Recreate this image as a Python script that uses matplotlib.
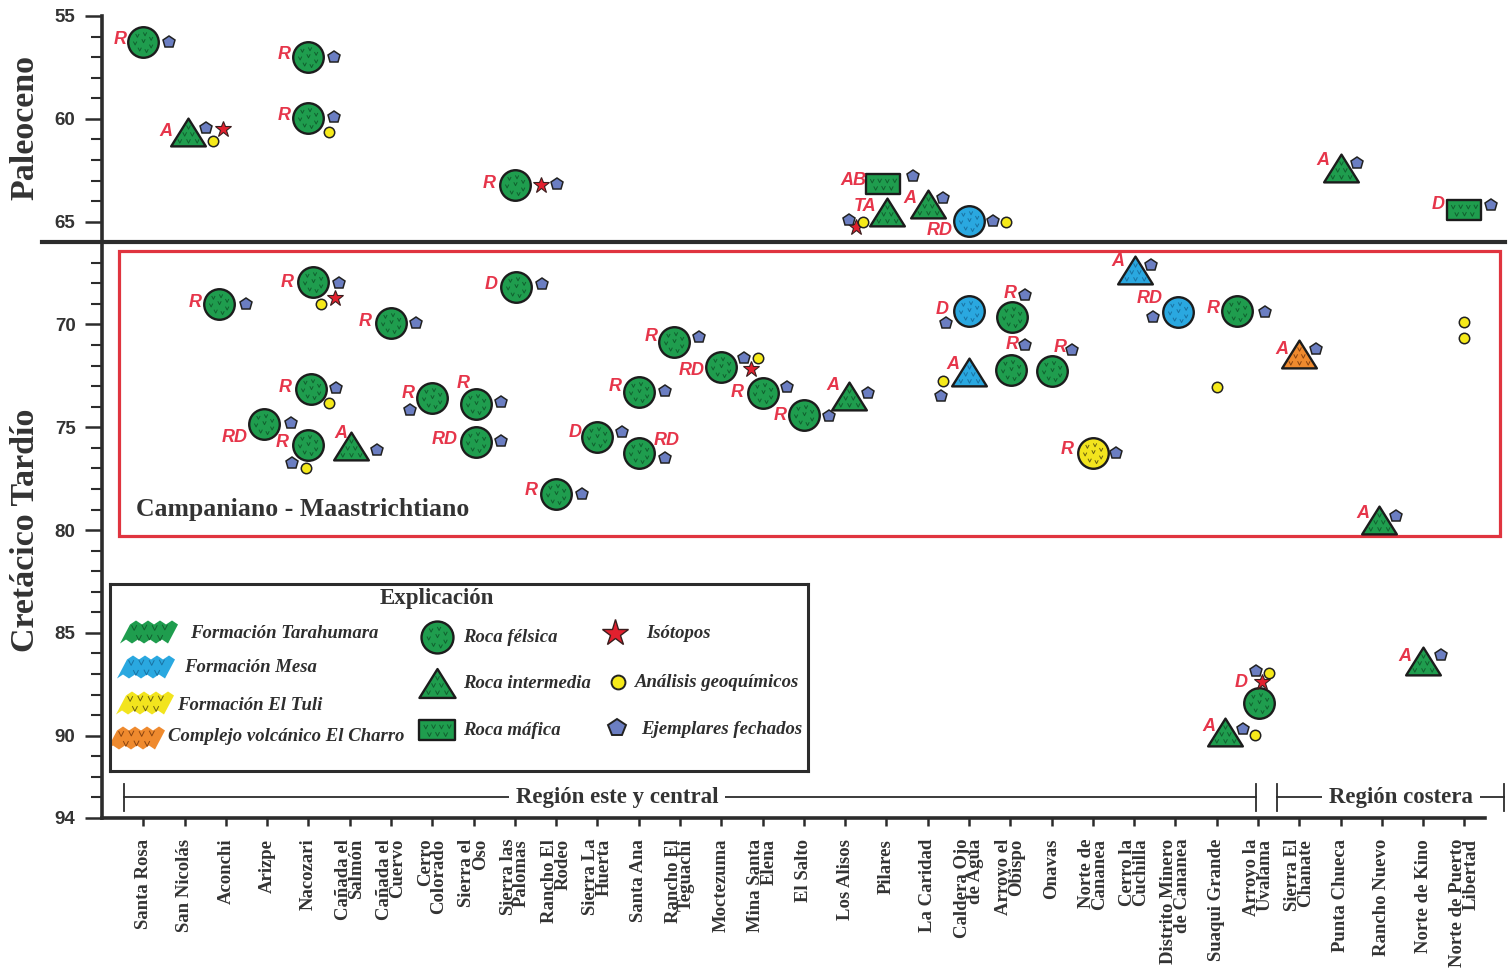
import numpy as np
import matplotlib
matplotlib.use("Agg")
import matplotlib.pyplot as plt
import matplotlib.transforms as mtransforms
from matplotlib.path import Path
from matplotlib.patches import Rectangle, Polygon

# ---------------- data ----------------
sites = [
    "Santa Rosa", "San Nicolás", "Aconchi", "Arizpe", "Nacozari",
    "Cañada el\nSalmón", "Cañada el\nCuervo", "Cerro\nColorado", "Sierra el\nOso",
    "Sierra las\nPalomas", "Rancho El\nRodeo", "Sierra La\nHuerta", "Santa Ana",
    "Rancho El\nTeguachi", "Moctezuma", "Mina Santa\nElena", "El Salto",
    "Los Alisos", "Pilares", "La Caridad", "Caldera Ojo\nde Agua",
    "Arroyo el\nObispo", "Onavas", "Norte de\nCananea", "Cerro la\nCuchilla",
    "Distrito Minero\nde Cananea", "Suaqui Grande", "Arroyo la\nUvalama",
    "Sierra El\nChanate", "Punta Chueca", "Rancho Nuevo", "Norte de Kino",
    "Norte de Puerto\nLibertad",
]

# one entry per dated sample (age in Ma)
sample_site = [0, 1, 4, 4, 9, 18, 18, 17, 19, 20, 29, 32,
               2, 4, 6, 4, 3, 4, 5, 7, 8, 8, 9, 10, 11, 12, 12, 13, 14, 15, 16, 17,
               20, 20, 21, 21, 22, 23, 24, 25, 26, 28, 30, 27, 26, 31]
sample_age = [56.26, 60.64, 56.99, 59.96, 63.22, 63.17, 64.53, 65.02, 64.12, 64.97, 62.39, 64.43,
              69.00, 67.94, 69.93, 73.14, 74.84, 75.86, 75.91, 73.58, 73.87, 75.72, 68.18, 78.24,
              75.47, 73.28, 76.25, 70.85, 72.07, 73.33, 74.40, 73.50,
              69.35, 72.31, 69.64, 72.21, 72.26, 76.25, 67.35, 69.39, 69.35, 71.44, 79.51, 88.41,
              89.82, 86.37]
# F = félsica, I = intermedia, M = máfica, '' = sin muestra de roca
sample_rock = ['F', 'I', 'F', 'F', 'F', 'M', 'I', '', 'I', 'F', 'I', 'M',
               'F', 'F', 'F', 'F', 'F', 'F', 'I', 'F', 'F', 'F', 'F', 'F', 'F', 'F', 'F', 'F',
               'F', 'F', 'F', 'I',
               'F', 'I', 'F', 'F', 'F', 'F', 'I', 'F', 'F', 'I', 'I', 'F', 'I', 'I']
# TAR = Tarahumara, MES = Mesa, TUL = El Tuli, CHA = El Charro
sample_unit = ['TAR', 'TAR', 'TAR', 'TAR', 'TAR', 'TAR', 'TAR', '', 'TAR', 'MES', 'TAR', 'TAR',
               'TAR', 'TAR', 'TAR', 'TAR', 'TAR', 'TAR', 'TAR', 'TAR', 'TAR', 'TAR', 'TAR', 'TAR',
               'TAR', 'TAR', 'TAR', 'TAR', 'TAR', 'TAR', 'TAR', 'TAR',
               'MES', 'MES', 'TAR', 'TAR', 'TAR', 'TUL', 'MES', 'MES', 'TAR', 'CHA', 'TAR', 'TAR',
               'TAR', 'TAR']
sample_method = ['R', 'A', 'R', 'R', 'R', 'AB', 'TA', '', 'A', 'RD', 'A', 'D',
                 'R', 'R', 'R', 'R', 'RD', 'R', 'A', 'R', 'R', 'RD', 'D', 'R', 'D', 'R', 'RD', 'R',
                 'RD', 'R', 'R', 'A',
                 'D', 'A', 'R', 'R', 'R', 'R', 'A', 'RD', 'R', 'A', 'A', 'D', 'A', 'A']
sample_dated = [1, 1, 1, 1, 1, 1, 0, 1, 1, 1, 1, 1,
                1, 1, 1, 1, 1, 1, 1, 1, 1, 1, 1, 1, 1, 1, 1, 1, 1, 1, 1, 1,
                1, 1, 1, 1, 1, 1, 1, 1, 1, 1, 1, 1, 1, 1]
sample_geochem = [0, 1, 0, 1, 0, 0, 0, 1, 0, 1, 0, 0,
                  0, 1, 0, 1, 0, 1, 0, 0, 0, 0, 0, 0, 0, 0, 0, 0, 1, 0, 0, 0,
                  0, 1, 0, 0, 0, 0, 0, 0, 0, 0, 0, 1, 1, 0]
sample_isotope = [0, 1, 0, 0, 1, 0, 0, 1, 0, 0, 0, 0,
                  0, 1, 0, 0, 0, 0, 0, 0, 0, 0, 0, 0, 0, 0, 0, 0, 1, 0, 0, 0,
                  0, 0, 0, 0, 0, 0, 0, 0, 0, 0, 0, 1, 0, 0]

# geochemistry-only points
geo_site = [26, 32, 32]
geo_age = [73.04, 69.88, 70.66]

# ---------------- layout (pixels, y downward) ----------------
sample_nudge = [0, .09, 0, 0, 0, -.07, .02, .27, 0, 0, 0, 0,
                -.16, .1, 0, .07, -.07, 0, .04, 0, .07, .05, .04, 0, 0, 0, 0, -.14, 0, 0, 0, .1,
                0, 0, .05, .03, .02, 0, .03, .07, .5, 0, -.06, .03, .21, 0]
label_pos = [(-17, -2, 'right'), (-16, 0, 'right'), (-18, -2, 'right'), (-18, -2, 'right'),
             (-19, -2, 'right'), (-17, -4, 'right'), (-11, -5, 'right'), None,
             (-11, -5, 'right'), (-16, 9, 'right'), (-11, -7, 'right'), (-20, -5, 'right'),
             (-18, -1, 'right'), (-19, 0, 'right'), (-19, -2, 'right'), (-20, -2, 'right'),
             (-17, 14, 'right'), (-20, -2, 'right'), (-4, -12, 'right'), (-18, -5, 'right'),
             (-7, -21, 'right'), (-18, -3, 'right'), (-19, -3, 'right'), (-18, -3, 'right'),
             (-16, -4, 'right'), (-17, -5, 'right'), (15, -12, 'left'), (-17, -5, 'right'),
             (-17, 3, 'right'), (-19, 0, 'right'), (-17, 1, 'right'), (-10, -11, 'right'),
             (-20, -2, 'right'), (-10, -7, 'right'), (-2, -24, 'center'), (1, -25, 'center'),
             (8, -23, 'center'), (-19, -3, 'right'), (-11, -8, 'right'), (-16, -13, 'right'),
             (-18, -3, 'right'), (-11, -5, 'right'), (-10, -7, 'right'), (-11, -21, 'right'),
             (-10, -6, 'right'), (-12, -5, 'right')]
date_pos = [(26, 0), (18, -4), (26, 0), (26, -1), (42, -1), (30, -8), None, (-7, -2),
            (15, -6), (24, 0), (16, -5), (27, -5),
            (27, 0), (26, 1), (25, 0), (25, -1), (27, -1), (-16, 18), (26, 4), (-22, 12),
            (25, -2), (25, -1), (26, -3), (26, 0), (25, -5), (26, -1), (26, 5), (25, -5),
            (23, -9), (24, -6), (25, 1), (19, -3),
            (-23, 12), (-28, 24), (13, -22), (14, -25), (20, -21), (23, 0), (16, -5), (-25, 5),
            (28, 1), (17, -5), (17, -4), (-3, -32), (18, -3), (18, -6)]
geo_pos = {1: (25, 9), 3: (21, 14), 7: (7, 0), 9: (37, 1), 13: (8, 22), 15: (18, 14),
           17: (-2, 23), 28: (37, -9), 33: (-26, 9), 43: (10, -30), 44: (30, 3)}
iso_pos = {1: (35, -3), 4: (26, 0), 7: (0, 5), 13: (22, 16), 28: (30, 2), 43: (3, -21)}

# ---------------- styles ----------------
UNIT_FILL = {'TAR': '#1f9d4e', 'MES': '#2aa8e0', 'TUL': '#f2e41e', 'CHA': '#ef8a2e'}
UNIT_TEX = {'TAR': '#11602f', 'MES': '#1a72a2', 'TUL': '#6a6010', 'CHA': '#8a4410'}
EDGE = '#1c1c1c'
DARK = '#2c2c2c'
LABEL_RED = '#e6354a'
PENT = '#6b7ec2'
GEO = '#f6ea1a'
STAR = '#e2202e'
SERIF = 'Liberation Serif'
SANS = 'Liberation Sans'

M, L = Path.MOVETO, Path.LINETO


def v_texture(points, s=0.11):
    verts = [(-1, -1), (1, 1)]
    codes = [M, M]
    for (px, py) in points:
        verts += [(px - s, py + s), (px, py - s), (px + s, py + s)]
        codes += [M, L, L]
    return Path(verts, codes)


tri_path = Path([(0, 0.8), (-1, -0.8), (1, -0.8), (0, 0.8)], [M, L, L, Path.CLOSEPOLY])
rect_path = Path([(-1, -0.55), (1, -0.55), (1, 0.55), (-1, 0.55), (-1, -0.55)],
                 [M, L, L, L, Path.CLOSEPOLY])
circ_tex = v_texture([(-0.4, 0.45), (0.1, 0.55), (0.5, 0.25), (-0.55, -0.05), (0.0, 0.1),
                      (0.5, -0.25), (-0.25, -0.45), (0.2, -0.55)])
tri_tex = v_texture([(0, 0.3), (-0.22, -0.1), (0.22, -0.1), (-0.5, -0.5), (0, -0.5), (0.5, -0.5)])
rect_tex = v_texture([(-0.65, 0.2), (-0.22, 0.22), (0.22, 0.2), (0.65, 0.22),
                      (-0.45, -0.22), (0, -0.2), (0.45, -0.22)])

MARK = {'F': 'o', 'I': tri_path, 'M': rect_path}
TEX = {'F': circ_tex, 'I': tri_tex, 'M': rect_tex}
SIZE = {'F': 22, 'I': 25, 'M': 25}

# ---------------- figure ----------------
W, H = 1510, 974
fig = plt.figure(figsize=(W / 100, H / 100), dpi=100)
ax = fig.add_axes([102 / W, 1 - 818 / H, (1485 - 102) / W, (818 - 16) / H])
ax.set_xlim(-1, 32.5)
ax.set_ylim(94, 55)

for side in ('top', 'right'):
    ax.spines[side].set_visible(False)
for side in ('left', 'bottom'):
    ax.spines[side].set_linewidth(2.6)
    ax.spines[side].set_color(DARK)

ax.set_yticks([55, 60, 65, 70, 75, 80, 85, 90, 94])
ax.set_yticks(range(55, 95), minor=True)
ax.tick_params(axis='y', which='major', length=12, width=1.8, pad=7, color=DARK,
               labelcolor='#333333', labelsize=13.5)
ax.tick_params(axis='y', which='minor', length=8, width=1.5, color=DARK)
for t in ax.get_yticklabels():
    t.set_fontfamily(SANS)
    t.set_fontweight('bold')

ax.set_xticks(range(len(sites)))
ax.set_xticklabels(sites, rotation=90, ha='center', va='top', fontsize=13.5,
                   fontweight='bold', family=SERIF, color='#333333',
                   linespacing=0.72, multialignment='right')
ax.tick_params(axis='x', length=6, width=1.8, pad=9, color=DARK)


def shifted(dx, dy):
    return mtransforms.offset_copy(ax.transData, fig=fig, x=dx, y=-dy, units='dots')


for i in range(len(sample_site)):
    x = sample_site[i] + sample_nudge[i]
    y = sample_age[i]
    rock = sample_rock[i]
    if rock:
        unit = sample_unit[i]
        ax.plot([x], [y], ls='none', marker=MARK[rock], ms=SIZE[rock],
                mfc=UNIT_FILL[unit], mec=EDGE, mew=1.7, zorder=5, clip_on=False)
        ax.plot([x], [y], ls='none', marker=TEX[rock], ms=SIZE[rock],
                mfc='none', mec=UNIT_TEX[unit], mew=0.7, zorder=6, clip_on=False)
    if sample_method[i]:
        dx, dy, ha = label_pos[i]
        ax.annotate(sample_method[i], (x, y), xytext=(dx, -dy), textcoords='offset pixels',
                    ha=ha, va='center', fontsize=13, fontweight='bold', fontstyle='italic',
                    family=SANS, color=LABEL_RED, zorder=9)
    if sample_isotope[i]:
        dx, dy = iso_pos[i]
        ax.plot([x], [y], ls='none', marker='*', ms=12, mfc=STAR, mec='#3a1e1e', mew=0.8,
                transform=shifted(dx, dy), zorder=7, clip_on=False)
    if sample_dated[i]:
        dx, dy = date_pos[i]
        ax.plot([x], [y], ls='none', marker='p', ms=9, mfc=PENT, mec='#222222', mew=1.1,
                transform=shifted(dx, dy), zorder=8, clip_on=False)
    if sample_geochem[i]:
        dx, dy = geo_pos[i]
        ax.plot([x], [y], ls='none', marker='o', ms=7.5, mfc=GEO, mec='#222222', mew=1.1,
                transform=shifted(dx, dy), zorder=8, clip_on=False)

ax.plot(geo_site, geo_age, ls='none', marker='o', ms=7.5, mfc=GEO, mec='#222222',
        mew=1.1, zorder=8, clip_on=False)

# Paleocene / Late Cretaceous boundary
blend = mtransforms.blended_transform_factory(fig.transFigure, ax.transData)
ax.plot([42 / W, 1505 / W], [66, 66], color=DARK, lw=3.0, transform=blend,
        clip_on=False, zorder=4)

# Campanian - Maastrichtian box
ax.add_patch(Rectangle((-0.58, 66.43), 33.45, 13.86, fill=False, ec='#e0343f', lw=2.3,
                       clip_on=False, zorder=3))
ax.text(-0.17, 79.0, 'Campaniano - Maastrichtiano', ha='left', va='center', fontsize=18.5,
        fontweight='bold', family=SERIF, color='#333333', zorder=4)

# region brackets
for x0, x1, xc, name in [(-0.46, 26.96, 11.48, 'Región este y central'),
                         (27.47, 32.97, 30.47, 'Región costera')]:
    ax.plot([x0, x1], [93, 93], color=DARK, lw=1.3, clip_on=False, zorder=3)
    for xe in (x0, x1):
        ax.plot([xe, xe], [92.35, 93.65], color=DARK, lw=1.3, clip_on=False, zorder=3)
    ax.text(xc, 93, name, ha='center', va='center', fontsize=16.5, fontweight='bold',
            family=SERIF, color='#333333', zorder=4,
            bbox=dict(fc='white', ec='none', pad=5))

# period labels
fig.text(25 / W, 1 - 127 / H, 'Paleoceno', rotation=90, ha='center', va='center',
         fontsize=24.5, fontweight='bold', family=SERIF, color='#333333')
fig.text(25 / W, 1 - 530 / H, 'Cretácico Tardío', rotation=90, ha='center', va='center',
         fontsize=24.5, fontweight='bold', family=SERIF, color='#333333')

# ---------------- legend ----------------
lg = fig.add_axes([110 / W, 1 - 771 / H, 698 / W, 187 / H])
lg.set_xlim(110, 808)
lg.set_ylim(771, 584)
lg.set_xticks([])
lg.set_yticks([])
for s in lg.spines.values():
    s.set_linewidth(2.2)
    s.set_color(DARK)

lg.text(437, 599, 'Explicación', ha='center', va='center', fontsize=16.5,
        fontweight='bold', family=SERIF, color='#333333')


def swatch(cx, cy, color, tex, w=48, h=15, skew=10, n=4, amp=4):
    xs = np.linspace(-w / 2, w / 2, 2 * n + 1)
    pts = []
    for k, xv in enumerate(xs):
        pts.append((cx + xv + skew / 2, cy - h / 2 - (amp if k % 2 else 0)))
    for k, xv in enumerate(xs[::-1]):
        pts.append((cx + xv - skew / 2, cy + h / 2 + (0 if k % 2 else amp)))
    lg.add_patch(Polygon(pts, closed=True, fc=color, ec='none', zorder=2))
    lg.plot([cx], [cy], ls='none', marker=rect_tex, ms=34, mfc='none', mec=tex,
            mew=0.7, zorder=3)


legend_units = ['TAR', 'MES', 'TUL', 'CHA']
legend_unit_names = ['Formación Tarahumara', 'Formación Mesa', 'Formación El Tuli',
                     'Complejo volcánico El Charro']
sw_xy = [(149, 632), (146, 667), (145, 703), (136, 738)]
txt_xy = [(190, 634), (184, 668), (177, 706), (168, 737)]
for u, name, (sx, sy), (tx, ty) in zip(legend_units, legend_unit_names, sw_xy, txt_xy):
    swatch(sx, sy, UNIT_FILL[u], UNIT_TEX[u])
    lg.text(tx, ty, name, ha='left', va='center', fontsize=13.5, fontweight='bold',
            fontstyle='italic', family=SERIF, color='#2e2e2e')

for rock, yy, name in [('F', 637, 'Roca félsica'), ('I', 683, 'Roca intermedia'),
                       ('M', 730, 'Roca máfica')]:
    lg.plot([437], [yy], ls='none', marker=MARK[rock], ms=SIZE[rock] + 1,
            mfc=UNIT_FILL['TAR'], mec=EDGE, mew=1.7, zorder=3)
    lg.plot([437], [yy], ls='none', marker=TEX[rock], ms=SIZE[rock] + 1, mfc='none',
            mec=UNIT_TEX['TAR'], mew=0.7, zorder=4)
    lg.text(463, yy + 1, name, ha='left', va='center', fontsize=13.5, fontweight='bold',
            fontstyle='italic', family=SERIF, color='#2e2e2e')

lg.plot([615], [633], ls='none', marker='*', ms=20, mfc=STAR, mec='#3a1e1e', mew=1.0)
lg.text(646, 634, 'Isótopos', ha='left', va='center', fontsize=13.5, fontweight='bold',
        fontstyle='italic', family=SERIF, color='#2e2e2e')
lg.plot([618], [682], ls='none', marker='o', ms=10, mfc=GEO, mec='#222222', mew=1.4)
lg.text(635, 683, 'Análisis geoquímicos', ha='left', va='center', fontsize=13.5,
        fontweight='bold', fontstyle='italic', family=SERIF, color='#2e2e2e')
lg.plot([617], [728], ls='none', marker='p', ms=13, mfc=PENT, mec='#222222', mew=1.4)
lg.text(641, 730, 'Ejemplares fechados', ha='left', va='center', fontsize=13.5,
        fontweight='bold', fontstyle='italic', family=SERIF, color='#2e2e2e')

fig.savefig('out.png', dpi=100)
